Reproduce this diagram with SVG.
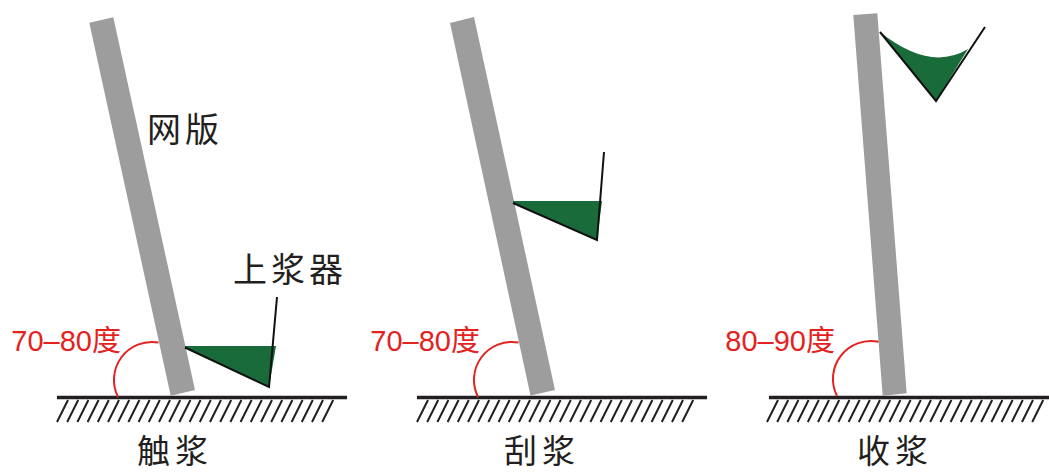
<svg xmlns="http://www.w3.org/2000/svg" xmlns:xlink="http://www.w3.org/1999/xlink" width="1049" height="473" viewBox="0 0 1049 473">
<style>
.bar{fill:#9d9d9d}
.ink{fill:#1a6b3a}
.edge{fill:none;stroke:#111;stroke-width:2;stroke-linejoin:miter}
.ground{stroke:#231f20;stroke-width:3.5}
.hatch{fill:none;stroke:#231f20;stroke-width:2}
.arc{fill:none;stroke:#e3231f;stroke-width:2}
.deg{font-family:"Liberation Sans","Noto Sans CJK SC",sans-serif;font-size:29px;fill:#e3231f}
.lbl{font-family:"Noto Sans CJK SC","Noto Sans",sans-serif;font-size:34px;fill:#231f20;letter-spacing:4px}
.ttl{font-family:"Noto Sans CJK SC","Noto Sans",sans-serif;font-size:33px;fill:#231f20;letter-spacing:5px}
</style>
<defs>
<path id="hatch" class="hatch" d="M57,422l11,-22M67.2,422l11,-22M77.4,422l11,-22M87.6,422l11,-22M97.8,422l11,-22M108,422l11,-22M118.2,422l11,-22M128.4,422l11,-22M138.6,422l11,-22M148.8,422l11,-22M159,422l11,-22M169.2,422l11,-22M179.4,422l11,-22M189.6,422l11,-22M199.8,422l11,-22M210,422l11,-22M220.2,422l11,-22M230.4,422l11,-22M240.6,422l11,-22M250.8,422l11,-22M261,422l11,-22M271.2,422l11,-22M281.4,422l11,-22M291.6,422l11,-22M301.8,422l11,-22M312,422l11,-22M322.2,422l11,-22"/>
</defs>

<g id="panel1">
<g id="ground1">
<line class="ground" x1="57" y1="397.5" x2="347" y2="397.5"/>
<use xlink:href="#hatch" href="#hatch"/>
</g>
<polygon id="screen1" class="bar" points="89.3,22.7 113.3,17.3 195,390 170.7,395.7"/>
<g id="squeegee1">
<polygon class="ink" points="185,346 276,346 269,387 185,348"/>
<polyline class="edge" points="185,347.5 269,387 277,297"/>
</g>
<g id="angle1">
<path class="arc" d="M118,397 A38,38 0 0 1 158.5,342.5"/>
<text class="deg" x="121" y="351" text-anchor="end">70–80度</text>
</g>
<text id="label-screen" class="lbl" x="147" y="142">网版</text>
<text id="label-squeegee" class="lbl" x="233" y="282">上浆器</text>
<text id="title1" class="ttl" x="137" y="463">触浆</text>
</g>

<g id="panel2">
<g id="ground2">
<line class="ground" x1="417" y1="397.5" x2="707" y2="397.5"/>
<use xlink:href="#hatch" href="#hatch" x="360"/>
</g>
<polygon id="screen2" class="bar" points="450,23 474,17 555,390 530.5,395.5"/>
<g id="squeegee2">
<polygon class="ink" points="513,201 602,201 597,240 513,203"/>
<polyline class="edge" points="513,203 597,240 604,152"/>
</g>
<g id="angle2">
<path class="arc" d="M478,397 A38,38 0 0 1 518.5,342.5"/>
<text class="deg" x="480" y="351" text-anchor="end">70–80度</text>
</g>
<text id="title2" class="ttl" x="504" y="463">刮浆</text>
</g>

<g id="panel3">
<g id="ground3">
<line class="ground" x1="769" y1="397.5" x2="1049" y2="397.5"/>
<use xlink:href="#hatch" href="#hatch" x="710"/>
</g>
<polygon id="screen3" class="bar" points="853.3,15 877.3,13.3 906.7,393.3 882.7,395.7"/>
<g id="squeegee3">
<path class="ink" d="M880,32 Q930,72 968,49 L936,101 Z"/>
<polyline class="edge" points="880,32 936,101 985,27"/>
</g>
<g id="angle3">
<path class="arc" d="M837,396 A38,38 0 0 1 878.5,341.7"/>
<text class="deg" x="835" y="351" text-anchor="end">80–90度</text>
</g>
<text id="title3" class="ttl" x="857" y="463">收浆</text>
</g>
</svg>
